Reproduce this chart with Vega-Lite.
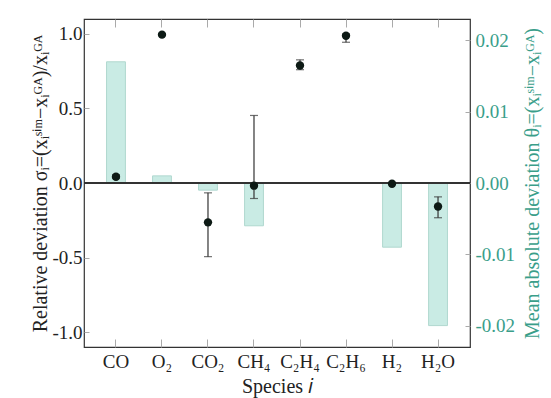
{
  "$schema": "https://vega.github.io/schema/vega-lite/v6.json",
  "width": 386,
  "height": 328,
  "autosize": {"type": "none"},
  "padding": {"left": 84, "top": 19, "right": 81, "bottom": 51},
  "background": "white",
  "config": {
    "view": {"stroke": "#333", "strokeWidth": 1.2},
    "font": "Liberation Serif",
    "axis": {
      "domain": false,
      "grid": false,
      "zindex": 1,
      "labelFont": "Liberation Serif",
      "titleFont": "Liberation Serif",
      "labelFontSize": 19,
      "titleFontSize": 20,
      "titleFontWeight": "normal",
      "labelColor": "#222",
      "titleColor": "#222"
    }
  },
  "data": {
    "values": [
      {"species": "CO", "sigma": 0.042, "lo": 0.03, "hi": 0.055, "theta": 0.0170},
      {"species": "O₂", "sigma": 0.995, "lo": 0.99, "hi": 1.0, "theta": 0.0010},
      {"species": "CO₂", "sigma": -0.264, "lo": -0.494, "hi": -0.066, "theta": -0.0010},
      {"species": "CH₄", "sigma": -0.018, "lo": -0.104, "hi": 0.453, "theta": -0.0060},
      {"species": "C₂H₄", "sigma": 0.788, "lo": 0.76, "hi": 0.826, "theta": 0},
      {"species": "C₂H₆", "sigma": 0.988, "lo": 0.944, "hi": 1.0, "theta": 0},
      {"species": "H₂", "sigma": -0.005, "lo": -0.01, "hi": 0.0, "theta": -0.0090},
      {"species": "H₂O", "sigma": -0.158, "lo": -0.233, "hi": -0.093, "theta": -0.0200}
    ]
  },
  "layer": [
    {
      "mark": {"type": "bar", "fill": "#c9ebe4", "stroke": "#b0d8cf", "strokeWidth": 1},
      "encoding": {
        "x": {
          "field": "species", "type": "nominal", "sort": null,
          "scale": {"paddingInner": 0.59, "paddingOuter": 0.49},
          "axis": {"orient": "bottom", "title": "Species 𝑖", "labelAngle": 0, "ticks": true, "tickColor": "#aaaaaa", "tickWidth": 1, "offset": -8, "tickSize": 8, "labelPadding": 5, "titlePadding": 5}
        },
        "y": {
          "field": "theta", "type": "quantitative",
          "scale": {"domain": [-0.023, 0.023], "nice": false, "zero": false},
          "axis": {
            "orient": "right", "values": [-0.02, -0.01, 0, 0.01, 0.02], "format": ".2f",
            "labelExpr": "replace(datum.label, '−', '-')",
            "ticks": true, "tickColor": "#aaaaaa", "tickWidth": 1,
            "offset": -5, "tickSize": 5, "labelPadding": 5, "labelColor": "#3a9e8a",
            "title": "Mean absolute deviation θᵢ=(xᵢˢⁱᵐ−xᵢᴳᴬ)", "titleColor": "#3a9e8a", "titleAngle": 270, "titleBaseline": "top", "titlePadding": 8
          }
        },
        "y2": {"datum": 0}
      }
    },
    {
      "layer": [
        {
          "mark": {"type": "rule", "color": "#333", "strokeWidth": 1.5},
          "encoding": {
            "y": {"datum": 0, "type": "quantitative", "scale": {"domain": [-1.1, 1.1], "nice": false, "zero": false},
              "axis": {"orient": "left", "values": [-1, -0.5, 0, 0.5, 1], "format": ".1f", "labelExpr": "replace(datum.label, '−', '-')", "ticks": true, "tickColor": "#aaaaaa", "tickWidth": 1, "offset": -5, "tickSize": 5, "labelPadding": 2, "title": "Relative deviation σᵢ=(xᵢˢⁱᵐ−xᵢᴳᴬ)/xᵢᴳᴬ", "titlePadding": 1}}
          }
        },
        {
          "mark": {"type": "rule", "color": "#333", "strokeWidth": 1.2},
          "encoding": {
            "x": {"field": "species", "type": "nominal", "sort": null, "scale": {"paddingInner": 0.59, "paddingOuter": 0.49}, "axis": {"orient": "top", "labels": false, "title": null, "ticks": true, "tickColor": "#aaaaaa", "tickWidth": 1, "offset": -8, "tickSize": 8}},
            "y": {"field": "lo", "type": "quantitative", "scale": {"domain": [-1.1, 1.1], "nice": false, "zero": false},
              "axis": {"orient": "left", "values": [-1, -0.5, 0, 0.5, 1], "format": ".1f", "labelExpr": "replace(datum.label, '−', '-')", "ticks": true, "tickColor": "#aaaaaa", "tickWidth": 1, "offset": -5, "tickSize": 5, "labelPadding": 2, "title": "Relative deviation σᵢ=(xᵢˢⁱᵐ−xᵢᴳᴬ)/xᵢᴳᴬ", "titlePadding": 1}},
            "y2": {"field": "hi"}
          }
        },
        {
          "mark": {"type": "tick", "color": "#333", "size": 8, "thickness": 1.2},
          "encoding": {
            "x": {"field": "species", "type": "nominal", "sort": null, "scale": {"paddingInner": 0.59, "paddingOuter": 0.49}, "axis": {"orient": "top", "labels": false, "title": null, "ticks": true, "tickColor": "#aaaaaa", "tickWidth": 1, "offset": -8, "tickSize": 8}},
            "y": {"field": "lo", "type": "quantitative", "scale": {"domain": [-1.1, 1.1], "nice": false, "zero": false},
              "axis": {"orient": "left", "values": [-1, -0.5, 0, 0.5, 1], "format": ".1f", "labelExpr": "replace(datum.label, '−', '-')", "ticks": true, "tickColor": "#aaaaaa", "tickWidth": 1, "offset": -5, "tickSize": 5, "labelPadding": 2, "title": "Relative deviation σᵢ=(xᵢˢⁱᵐ−xᵢᴳᴬ)/xᵢᴳᴬ", "titlePadding": 1}}
          }
        },
        {
          "mark": {"type": "tick", "color": "#333", "size": 8, "thickness": 1.2},
          "encoding": {
            "x": {"field": "species", "type": "nominal", "sort": null, "scale": {"paddingInner": 0.59, "paddingOuter": 0.49}, "axis": {"orient": "top", "labels": false, "title": null, "ticks": true, "tickColor": "#aaaaaa", "tickWidth": 1, "offset": -8, "tickSize": 8}},
            "y": {"field": "hi", "type": "quantitative", "scale": {"domain": [-1.1, 1.1], "nice": false, "zero": false},
              "axis": {"orient": "left", "values": [-1, -0.5, 0, 0.5, 1], "format": ".1f", "labelExpr": "replace(datum.label, '−', '-')", "ticks": true, "tickColor": "#aaaaaa", "tickWidth": 1, "offset": -5, "tickSize": 5, "labelPadding": 2, "title": "Relative deviation σᵢ=(xᵢˢⁱᵐ−xᵢᴳᴬ)/xᵢᴳᴬ", "titlePadding": 1}}
          }
        },
        {
          "mark": {"type": "point", "filled": true, "color": "#0d1a15", "size": 70, "opacity": 1},
          "encoding": {
            "x": {"field": "species", "type": "nominal", "sort": null, "scale": {"paddingInner": 0.59, "paddingOuter": 0.49}, "axis": {"orient": "top", "labels": false, "title": null, "ticks": true, "tickColor": "#aaaaaa", "tickWidth": 1, "offset": -8, "tickSize": 8}},
            "y": {"field": "sigma", "type": "quantitative", "scale": {"domain": [-1.1, 1.1], "nice": false, "zero": false},
              "axis": {"orient": "left", "values": [-1, -0.5, 0, 0.5, 1], "format": ".1f", "labelExpr": "replace(datum.label, '−', '-')", "ticks": true, "tickColor": "#aaaaaa", "tickWidth": 1, "offset": -5, "tickSize": 5, "labelPadding": 2, "title": "Relative deviation σᵢ=(xᵢˢⁱᵐ−xᵢᴳᴬ)/xᵢᴳᴬ", "titlePadding": 1}}
          }
        }
      ]
    }
  ],
  "resolve": {"scale": {"y": "independent"}, "axis": {"x": "independent", "y": "independent"}}
}
